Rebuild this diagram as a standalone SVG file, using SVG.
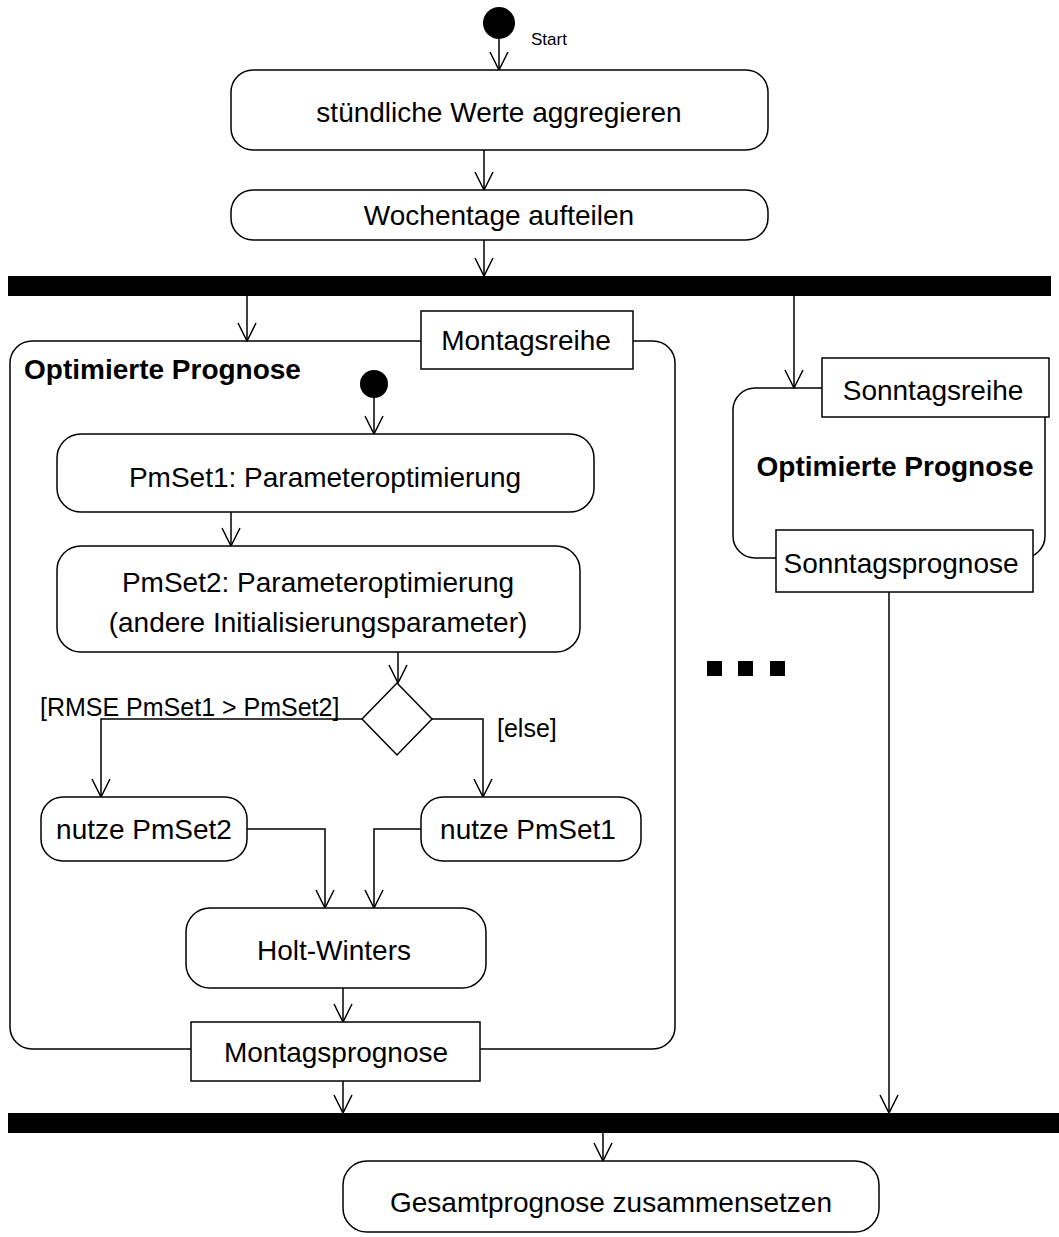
<svg xmlns="http://www.w3.org/2000/svg" width="1059" height="1237" viewBox="0 0 1059 1237">
<style>
text{font-family:"Liberation Sans",Arial,sans-serif;fill:#000}
.t{font-size:28px;text-anchor:middle;dominant-baseline:central}
.b{font-size:28px;font-weight:bold}
.g{font-size:25px}
.act{fill:#fff;stroke:#000;stroke-width:1.5}
.pin{fill:#fff;stroke:#000;stroke-width:1.5}
.c{fill:none;stroke:#000;stroke-width:1.5;marker-end:url(#arr)}
.bar{fill:#000}
</style>
<defs>
<marker id="arr" viewBox="0 0 20 20" refX="19" refY="10" markerWidth="20" markerHeight="20" markerUnits="userSpaceOnUse" orient="auto">
<path d="M1,1 L19,10 L1,19" fill="none" stroke="#000" stroke-width="1.5"/>
</marker>
</defs>
<rect width="1059" height="1237" fill="#fff"/>

<g id="connectors">
<path class="c" d="M499,39 V70"/>
<path class="c" d="M484,150 V190"/>
<path class="c" d="M484,240 V276"/>
<path class="c" d="M247,296 V341"/>
<path class="c" d="M794,296 V388"/>
<path class="c" d="M374,398 V434"/>
<path class="c" d="M231,512 V546"/>
<path class="c" d="M398,652 V683"/>
<path class="c" d="M362,719 H101 V797"/>
<path class="c" d="M432,719 H483 V797"/>
<path class="c" d="M247,829 H325 V908"/>
<path class="c" d="M421,829 H374 V908"/>
<path class="c" d="M343,988 V1022"/>
<path class="c" d="M343,1081 V1113"/>
<path class="c" d="M889,592 V1113"/>
<path class="c" d="M603,1133 V1161"/>
</g>

<g id="start">
<circle cx="499" cy="23" r="16" fill="#000"/>
<text x="531" y="45" style="font-size:17px">Start</text>
</g>

<g id="n1">
<rect class="act" x="231" y="70" width="537" height="80" rx="22"/>
<text class="t" x="499" y="112">stündliche Werte aggregieren</text>
</g>

<g id="n2">
<rect class="act" x="231" y="190" width="537" height="50" rx="22"/>
<text class="t" x="499" y="215">Wochentage aufteilen</text>
</g>

<g id="fork1">
<rect class="bar" x="8" y="276" width="1043" height="20"/>
</g>

<g id="montag">
<rect x="10" y="341" width="665" height="708" rx="22" fill="none" stroke="#000" stroke-width="1.5"/>
<text class="b" x="24" y="379">Optimierte Prognose</text>
</g>

<g id="pin-montagsreihe">
<rect class="pin" x="421" y="311" width="212" height="58"/>
<text class="t" x="526" y="340">Montagsreihe</text>
</g>

<g id="inner-start">
<circle cx="374" cy="384" r="14" fill="#000"/>
</g>

<g id="pmset1">
<rect class="act" x="57" y="434" width="537" height="78" rx="24"/>
<text class="t" x="325" y="477">PmSet1: Parameteroptimierung</text>
</g>

<g id="pmset2">
<rect class="act" x="57" y="546" width="523" height="106" rx="24"/>
<text class="t" x="318" y="582">PmSet2: Parameteroptimierung</text>
<text class="t" x="318" y="622">(andere Initialisierungsparameter)</text>
</g>

<g id="decision">
<path d="M397,683 L432,719 L397,755 L362,719 Z" fill="#fff" stroke="#000" stroke-width="1.5"/>
<text class="g" x="40" y="716">[RMSE PmSet1 &gt; PmSet2]</text>
<text class="g" x="497" y="737">[else]</text>
</g>

<g id="nutze2">
<rect class="act" x="41" y="797" width="206" height="64" rx="22"/>
<text class="t" x="144" y="829">nutze PmSet2</text>
</g>

<g id="nutze1">
<rect class="act" x="421" y="797" width="220" height="64" rx="22"/>
<text class="t" x="528" y="829">nutze PmSet1</text>
</g>

<g id="holt">
<rect class="act" x="186" y="908" width="300" height="80" rx="24"/>
<text class="t" x="334" y="950">Holt-Winters</text>
</g>

<g id="pin-montagsprognose">
<rect class="pin" x="191" y="1022" width="289" height="59"/>
<text class="t" x="336" y="1052">Montagsprognose</text>
</g>

<g id="sonntag">
<rect x="733" y="388" width="312" height="170" rx="22" fill="none" stroke="#000" stroke-width="1.5"/>
<text class="b" x="895" y="476" text-anchor="middle">Optimierte Prognose</text>
</g>

<g id="pin-sonntagsreihe">
<rect class="pin" x="822" y="358" width="227" height="59"/>
<text class="t" x="933" y="390">Sonntagsreihe</text>
</g>

<g id="pin-sonntagsprognose">
<rect class="pin" x="776" y="530" width="257" height="62"/>
<text class="t" x="901" y="563">Sonntagsprognose</text>
</g>

<g id="ellipsis">
<rect x="707" y="661" width="15" height="15"/>
<rect x="738" y="661" width="15" height="15"/>
<rect x="770" y="661" width="15" height="15"/>
</g>

<g id="join">
<rect class="bar" x="8" y="1113" width="1051" height="20"/>
</g>

<g id="gesamt">
<rect class="act" x="343" y="1161" width="536" height="71" rx="24"/>
<text class="t" x="611" y="1202">Gesamtprognose zusammensetzen</text>
</g>
</svg>
